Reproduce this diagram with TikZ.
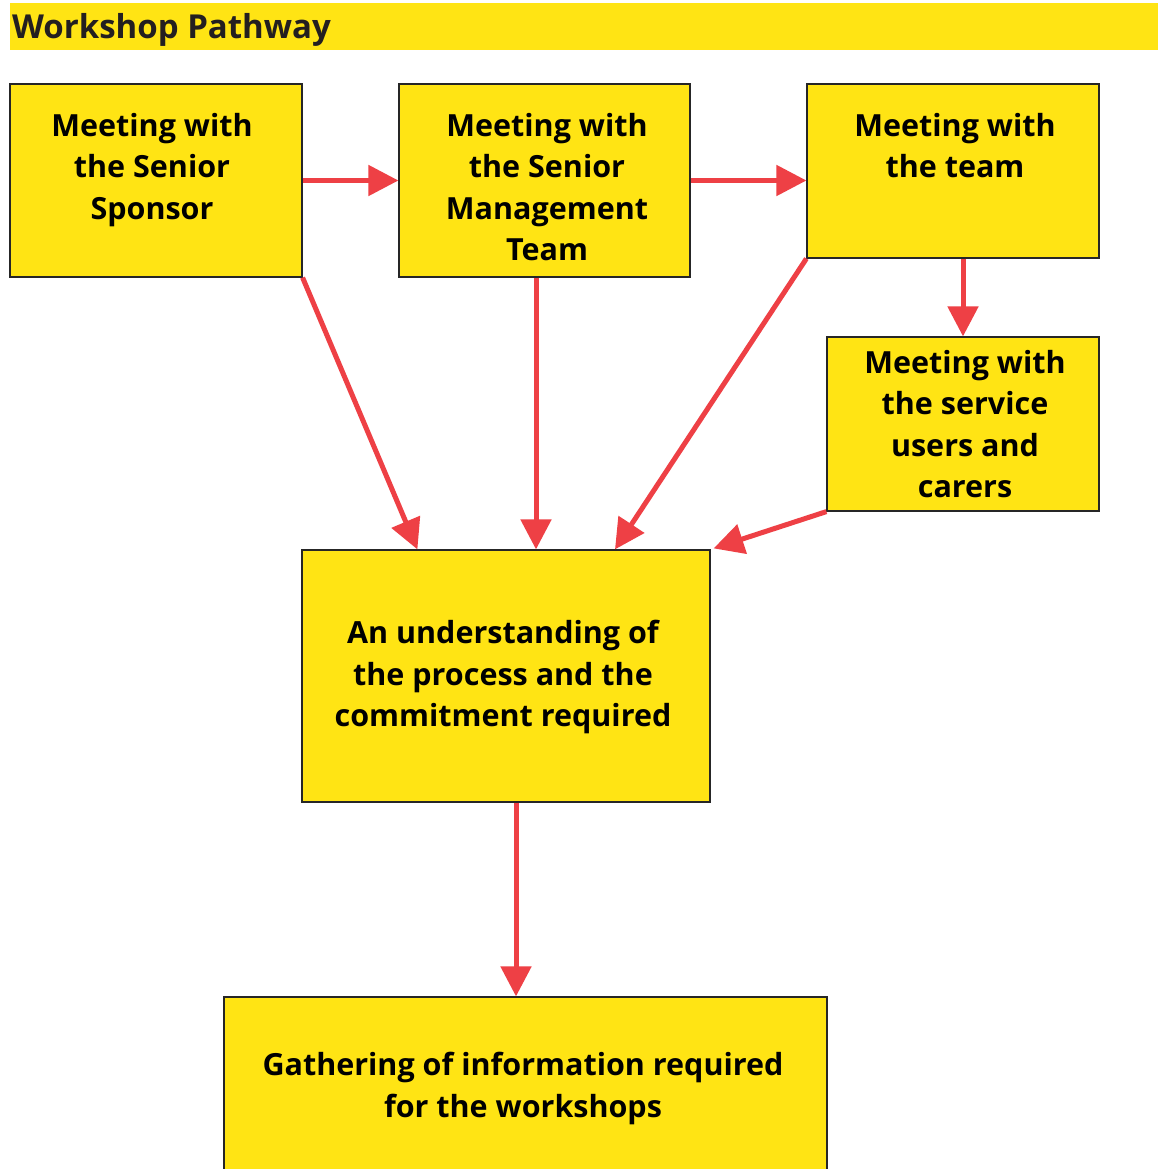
\documentclass[tikz,border=0pt]{standalone}
\usepackage{fontspec}
\setmainfont{Open Sans}
\usetikzlibrary{arrows.meta}
\definecolor{boxyellow}{HTML}{FFE414}
\definecolor{arrred}{HTML}{EE4045}
\definecolor{titletext}{HTML}{231F20}
\tikzset{
  box/.style={draw=black!85, line width=1.2pt, fill=boxyellow, rectangle, inner sep=0pt},
  txt/.style={anchor=north, align=center, inner sep=0pt, font=\fontsize{30.5}{41.5}\selectfont\bfseries},
  arr/.style={draw=arrred, line width=5pt, -{Triangle[length=30pt,width=30pt]}},
}
\begin{document}
\begin{tikzpicture}[x=1pt,y=-1pt]
\useasboundingbox (0,0) rectangle (1161,1169);
\fill[white] (0,0) rectangle (1161,1169);
\node[fill=boxyellow, minimum width=1148pt, minimum height=47pt, inner sep=0pt] (bar) at (584,26.5) {};
\node[anchor=base west, inner sep=0pt, text=titletext, font=\fontsize{33}{38}\selectfont\bfseries] (title) at (12,39) {Workshop Pathway};

\node[box, minimum width=292pt, minimum height=193pt] (b1) at (156,180.5) {};
\node[box, minimum width=291pt, minimum height=193pt] (b2) at (544.5,180.5) {};
\node[box, minimum width=292pt, minimum height=174pt] (b3) at (953,171) {};
\node[box, minimum width=272pt, minimum height=174pt] (b4) at (963,424) {};
\node[box, minimum width=408pt, minimum height=252pt] (b5) at (506,676) {};
\node[box, minimum width=603pt, minimum height=190pt] (b6) at (525.5,1092) {};

\node[txt] (t1) at (152,113) {Meeting with\\the Senior\\Sponsor};
\node[txt] (t2) at (547,113) {Meeting with\\the Senior\\Management\\Team};
\node[txt] (t3) at (955,113) {Meeting with\\the team};
\node[txt] (t4) at (965,350) {Meeting with\\the service\\users and\\carers};
\node[txt] (t5) at (503,620) {An understanding of\\the process and the\\commitment required};
\node[txt] (t6) at (523,1052) {Gathering of information required\\for the workshops};

\draw[arr] (b1.east) -- (b2.west);
\draw[arr] (b2.east) -- (b3.west |- b2.east);
\draw[arr] (b3.south -| b4.north) -- (b4.north);
\draw[arr] (b1.south east) -- ([xshift=116pt]b5.north west);
\draw[arr] ([xshift=-8.5pt]b2.south) -- ([xshift=30pt]b5.north);
\draw[arr] (b3.south west) -- ([xshift=109pt]b5.north);
\draw[arr] (b4.south west) -- ([xshift=3pt,yshift=1pt]b5.north east);
\draw[arr] ([xshift=10pt]b5.south) -- ([xshift=10pt]b5.south |- b6.north);
\end{tikzpicture}
\end{document}
